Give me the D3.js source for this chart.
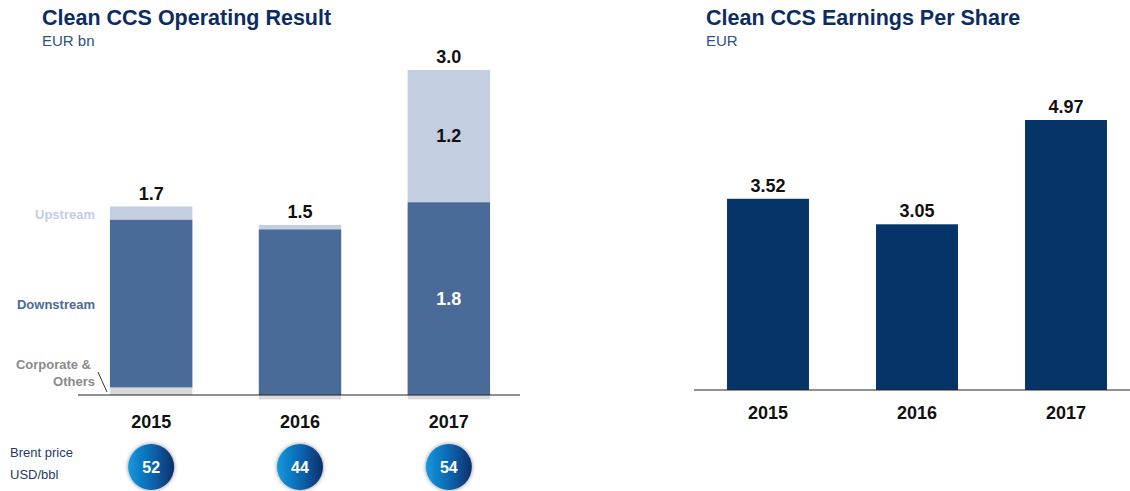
<!DOCTYPE html>
<html>
<head>
<meta charset="utf-8">
<script src="https://d3js.org/d3.v7.min.js"></script>
<style>
  body { margin: 0; background: #fff; }
  svg { font-family: "Liberation Sans", Arial, sans-serif; }
</style>
</head>
<body>
<svg id="chart" width="1130" height="491"></svg>
<script>
// data
var years = ["2015", "2016", "2017"];
var upstream = [0.12, 0.04, 1.22];
var downstream = [1.55, 1.53, 1.78];
var corporate = [0.07, -0.04, -0.04];
var brent = [52, 44, 54];
var eps = [3.52, 3.05, 4.97];

var svg = d3.select('#chart');
var navy = '#0c2d63';

// gradient + shadow for the brent bubbles
var defs = svg.append('defs');
var grad = defs.append('linearGradient').attr('id', 'bubble')
    .attr('x1', '0').attr('x2', '1').attr('y1', '0').attr('y2', '0');
grad.append('stop').attr('offset', '0').attr('stop-color', '#1598db');
grad.append('stop').attr('offset', '0.55').attr('stop-color', '#0a62ae');
grad.append('stop').attr('offset', '1').attr('stop-color', '#0a2f6a');
var shadow = defs.append('filter').attr('id', 'shadow')
    .attr('x', '-50%').attr('y', '-50%').attr('width', '200%').attr('height', '200%');
shadow.append('feDropShadow').attr('dx', 0).attr('dy', 0)
    .attr('stdDeviation', 2).attr('flood-color', '#000').attr('flood-opacity', 0.45);

// ---------- left chart: operating result ----------
svg.append('text').attr('x', 42).attr('y', 25)
    .attr('font-size', 21.5).attr('font-weight', 'bold').attr('fill', navy)
    .text('Clean CCS Operating Result');
svg.append('text').attr('x', 42).attr('y', 46)
    .attr('font-size', 15).attr('fill', '#2f4f80')
    .text('EUR bn');

var x1 = d3.scaleBand().domain(years).range([76.75, 523.25])
    .paddingInner(0.446).paddingOuter(0.223);
var y1 = d3.scaleLinear().domain([0, 3]).range([395, 70]);

var rows = years.map(function(y, i){
    return {year: y, Corporate: corporate[i], Downstream: downstream[i], Upstream: upstream[i]};
});
var keys = ['Corporate', 'Downstream', 'Upstream'];
var colors = {Corporate: '#d9d9d9', Downstream: '#4a6a98', Upstream: '#c3cee0'};
var stacked = d3.stack().keys(keys).offset(d3.stackOffsetDiverging)(rows);

svg.append('g').selectAll('g')
    .data(stacked).enter()
    .append('g')
    .attr('fill', function(d){ return colors[d.key]; })
    .selectAll('rect')
    .data(function(d){ return d; }).enter()
    .append('rect')
    .attr('x', function(d){ return x1(d.data.year); })
    .attr('width', x1.bandwidth())
    .attr('y', function(d){ return y1(Math.max(d[0], d[1])); })
    .attr('height', function(d){ return Math.abs(y1(d[0]) - y1(d[1])); });

svg.append('line').attr('x1', 78).attr('x2', 520).attr('y1', 395).attr('y2', 395)
    .attr('stroke', '#222').attr('stroke-width', 1);

// totals
var fmt = d3.format('.1f');
svg.append('g').selectAll('text')
    .data(rows).enter()
    .append('text')
    .attr('x', function(d){ return x1(d.year) + x1.bandwidth() / 2; })
    .attr('y', function(d){
        var top = Math.max(0, d.Corporate) + d.Downstream + d.Upstream;
        return y1(top) - 7;
    })
    .attr('text-anchor', 'middle').attr('font-size', 18).attr('font-weight', 'bold')
    .attr('fill', '#111')
    .text(function(d){ return fmt(d.Corporate + d.Downstream + d.Upstream); });

// segment labels for 2017
var last = rows[2];
var cx17 = x1(last.year) + x1.bandwidth() / 2;
svg.append('text').attr('x', cx17)
    .attr('y', y1(last.Downstream + last.Upstream / 2)).attr('dy', '0.35em')
    .attr('text-anchor', 'middle').attr('font-size', 18).attr('font-weight', 'bold')
    .attr('fill', '#111').text(fmt(last.Upstream));
svg.append('text').attr('x', cx17)
    .attr('y', y1(last.Downstream / 2)).attr('dy', '0.35em')
    .attr('text-anchor', 'middle').attr('font-size', 18).attr('font-weight', 'bold')
    .attr('fill', '#fff').text(fmt(last.Downstream));

// years
svg.append('g').selectAll('text')
    .data(years).enter()
    .append('text')
    .attr('x', function(d){ return x1(d) + x1.bandwidth() / 2; })
    .attr('y', 428)
    .attr('text-anchor', 'middle').attr('font-size', 18).attr('font-weight', 'bold')
    .attr('fill', '#111').text(function(d){ return d; });

// series labels
var lab = svg.append('g').attr('font-size', 13).attr('font-weight', 'bold').attr('text-anchor', 'end');
lab.append('text').attr('x', 95).attr('y', 219).attr('fill', '#c3cee0').text('Upstream');
lab.append('text').attr('x', 95).attr('y', 309).attr('fill', '#4a6a98').text('Downstream');
lab.append('text').attr('x', 91).attr('y', 369).attr('fill', '#8a8a8a').text('Corporate &');
lab.append('text').attr('x', 95).attr('y', 386).attr('fill', '#8a8a8a').text('Others');
svg.append('line').attr('x1', 98).attr('y1', 372).attr('x2', 107).attr('y2', 392)
    .attr('stroke', '#333').attr('stroke-width', 1);

// brent price
svg.append('text').attr('x', 10).attr('y', 457).attr('font-size', 13).attr('fill', '#1f3b6a').text('Brent price');
svg.append('text').attr('x', 10).attr('y', 479).attr('font-size', 13).attr('fill', '#1f3b6a').text('USD/bbl');

var bub = svg.append('g').selectAll('g')
    .data(brent).enter()
    .append('g')
    .attr('transform', function(d, i){
        return 'translate(' + (x1(years[i]) + x1.bandwidth() / 2) + ',467)';
    });
bub.append('circle').attr('r', 23).attr('fill', 'url(#bubble)').attr('filter', 'url(#shadow)');
bub.append('text').attr('dy', '0.36em').attr('text-anchor', 'middle')
    .attr('font-size', 16).attr('font-weight', 'bold').attr('fill', '#fff')
    .text(function(d){ return d; });

// ---------- right chart: EPS ----------
svg.append('text').attr('x', 706).attr('y', 25)
    .attr('font-size', 21.5).attr('font-weight', 'bold').attr('fill', navy)
    .text('Clean CCS Earnings Per Share');
svg.append('text').attr('x', 706).attr('y', 46)
    .attr('font-size', 15).attr('fill', '#2f4f80')
    .text('EUR');

var x2 = d3.scaleBand().domain(years).range([693.5, 1140.5])
    .paddingInner(0.45).paddingOuter(0.225);
var y2 = d3.scaleLinear().domain([0, 4.97]).range([390, 120]);

svg.append('g').selectAll('rect')
    .data(eps).enter()
    .append('rect')
    .attr('x', function(d, i){ return x2(years[i]); })
    .attr('width', x2.bandwidth())
    .attr('y', function(d){ return y2(d); })
    .attr('height', function(d){ return y2(0) - y2(d); })
    .attr('fill', '#063468');

svg.append('line').attr('x1', 694).attr('x2', 1130).attr('y1', 390).attr('y2', 390)
    .attr('stroke', '#222').attr('stroke-width', 1);

svg.append('g').selectAll('text')
    .data(eps).enter()
    .append('text')
    .attr('x', function(d, i){ return x2(years[i]) + x2.bandwidth() / 2; })
    .attr('y', function(d){ return y2(d) - 7; })
    .attr('text-anchor', 'middle').attr('font-size', 18).attr('font-weight', 'bold')
    .attr('fill', '#111').text(function(d){ return d3.format('.2f')(d); });

svg.append('g').selectAll('text')
    .data(years).enter()
    .append('text')
    .attr('x', function(d){ return x2(d) + x2.bandwidth() / 2; })
    .attr('y', 419)
    .attr('text-anchor', 'middle').attr('font-size', 18).attr('font-weight', 'bold')
    .attr('fill', '#111').text(function(d){ return d; });
</script>
</body>
</html>
